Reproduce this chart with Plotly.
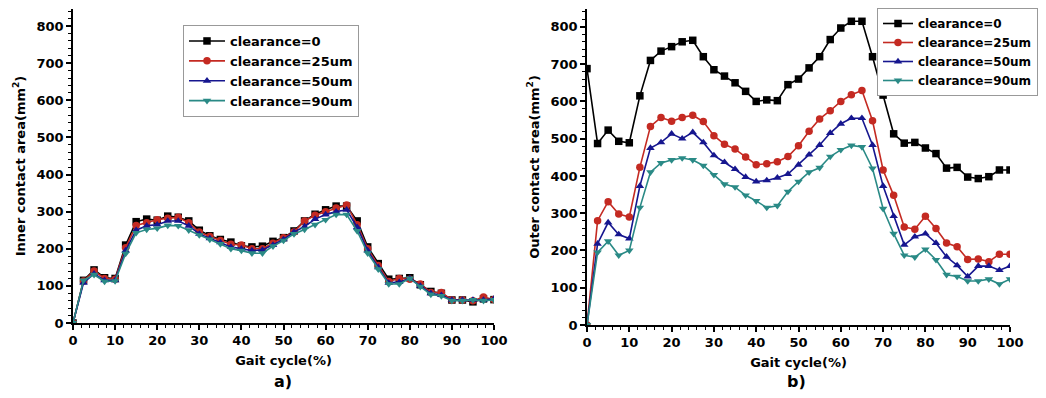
import plotly.graph_objects as go

gait = [i * 2.5 for i in range(41)]

inner_c0 = [0, 115, 143, 122, 120, 210, 273, 280, 277, 288, 285, 275, 250, 235, 225, 218, 208, 205, 207, 220,
            230, 248, 275, 293, 305, 315, 315, 275, 205, 160, 118, 120, 122, 103, 85, 80, 62, 62, 57, 65, 63]
inner_c25 = [0, 113, 140, 120, 118, 203, 263, 270, 278, 282, 285, 270, 245, 233, 222, 212, 210, 200, 200, 215,
             230, 245, 275, 290, 300, 310, 318, 265, 200, 155, 112, 120, 118, 105, 82, 82, 62, 62, 60, 70, 63]
inner_c50 = [0, 108, 133, 115, 115, 195, 250, 262, 265, 275, 275, 262, 240, 228, 217, 205, 200, 195, 197, 210,
             225, 245, 260, 280, 292, 300, 305, 258, 195, 150, 108, 110, 120, 100, 80, 75, 62, 62, 62, 62, 65]
inner_c90 = [0, 115, 130, 112, 113, 187, 243, 252, 255, 263, 262, 250, 237, 225, 213, 200, 195, 188, 188, 207,
             222, 240, 252, 265, 278, 292, 292, 248, 188, 145, 105, 105, 120, 98, 77, 73, 60, 60, 62, 60, 62]

outer_c0 = [688, 487, 523, 493, 489, 615, 710, 735, 747, 760, 764, 720, 685, 668, 650, 627, 600, 604, 602, 645,
            660, 690, 720, 766, 797, 815, 815, 720, 617, 513, 488, 490, 475, 460, 421, 423, 397, 393, 398, 416, 416]
outer_c25 = [0, 280, 331, 298, 290, 423, 533, 557, 547, 557, 563, 546, 508, 485, 472, 451, 430, 433, 438, 452,
             481, 520, 553, 575, 600, 618, 629, 548, 416, 348, 263, 257, 292, 259, 220, 210, 176, 177, 170, 190, 190]
outer_c50 = [0, 218, 275, 243, 232, 373, 475, 490, 513, 500, 517, 490, 455, 437, 418, 397, 385, 388, 395, 405,
             430, 457, 483, 515, 540, 555, 555, 483, 373, 292, 215, 237, 245, 220, 183, 160, 130, 158, 158, 147, 158]
outer_c90 = [0, 195, 225, 187, 200, 315, 410, 435, 443, 448, 443, 428, 403, 378, 370, 348, 333, 315, 320, 358,
             385, 410, 422, 452, 470, 482, 478, 420, 312, 245, 187, 182, 203, 175, 135, 130, 118, 118, 123, 110, 123]

names = ["clearance=0", "clearance=25um", "clearance=50um", "clearance=90um"]
colors = ["#000000", "#c42a22", "#16168f", "#2a8a86"]
symbols = ["square", "circle", "triangle-up", "triangle-down"]

FONT = "DejaVu Sans, Arial, sans-serif"

# The page body keeps its default 8px margin on every side, so the figure is
# sized to fit the window exactly; positions below are window pixels.
OFF = 8
W, H = 1046 - 2 * OFF, 398 - 2 * OFF


def fx(x):
    return (x - OFF) / W


def fy(y):
    return 1 - (y - OFF) / H


fig = go.Figure()

for series, name, col, sym in zip([inner_c0, inner_c25, inner_c50, inner_c90], names, colors, symbols):
    fig.add_trace(go.Scatter(x=gait, y=series, name=name, mode="lines+markers",
                             line=dict(color=col, width=1.6),
                             marker=dict(symbol=sym, size=7.5, color=col),
                             xaxis="x", yaxis="y", legend="legend"))

for series, name, col, sym in zip([outer_c0, outer_c25, outer_c50, outer_c90], names, colors, symbols):
    fig.add_trace(go.Scatter(x=gait, y=series, name=name, mode="lines+markers",
                             line=dict(color=col, width=1.6),
                             marker=dict(symbol=sym, size=7.5, color=col),
                             xaxis="x2", yaxis="y2", legend="legend2"))

axis_common = dict(
    showline=True, linecolor="black", linewidth=1.5, mirror=False,
    ticks="outside", ticklen=5, tickwidth=1.5, tickcolor="black",
    showgrid=False, zeroline=False,
    tickfont=dict(family=FONT, size=13, color="black", weight="bold"),
    minor=dict(ticks="outside", ticklen=3, tickwidth=1.2, tickcolor="black", showgrid=False),
    automargin=False,
)

title_font = dict(family=FONT, size=13, color="black", weight="bold")

fig.update_layout(
    width=W, height=H,
    margin=dict(l=0, r=0, t=0, b=0),
    paper_bgcolor="white", plot_bgcolor="white",
    xaxis=dict(domain=[fx(73), fx(494)], range=[0, 100], dtick=10, anchor="y",
               title=dict(text="Gait cycle(%)", font=title_font, standoff=9), **axis_common),
    yaxis=dict(domain=[fy(323), fy(9)], range=[0, 846], dtick=100, anchor="x",
               title=dict(text="Inner contact area(mm<sup>2</sup>)", font=title_font, standoff=8),
               **axis_common),
    xaxis2=dict(domain=[fx(587), fx(1010)], range=[0, 100], dtick=10, anchor="y2",
                title=dict(text="Gait cycle(%)", font=title_font, standoff=9), **axis_common),
    yaxis2=dict(domain=[fy(325), fy(9)], range=[0, 848], dtick=100, anchor="x2",
                title=dict(text="Outer contact area(mm<sup>2</sup>)", font=title_font, standoff=8),
                **axis_common),
    legend=dict(x=fx(183), y=fy(25), xanchor="left", yanchor="top",
                bgcolor="white", bordercolor="#999999", borderwidth=1,
                font=dict(family=FONT, size=13, color="black", weight="bold"),
                tracegroupgap=0, itemwidth=36),
    legend2=dict(x=1, y=1, xanchor="right", yanchor="top",
                 bgcolor="white", bordercolor="#999999", borderwidth=1,
                 font=dict(family=FONT, size=12, color="black", weight="bold"),
                 tracegroupgap=0, itemwidth=30),
    annotations=[
        dict(text="a)", x=fx(283), y=fy(381), xref="paper", yref="paper", showarrow=False,
             xanchor="center", yanchor="middle",
             font=dict(family=FONT, size=16, color="black", weight="bold")),
        dict(text="b)", x=fx(796), y=fy(381), xref="paper", yref="paper", showarrow=False,
             xanchor="center", yanchor="middle",
             font=dict(family=FONT, size=16, color="black", weight="bold")),
    ],
)

fig.write_html("out.html")
